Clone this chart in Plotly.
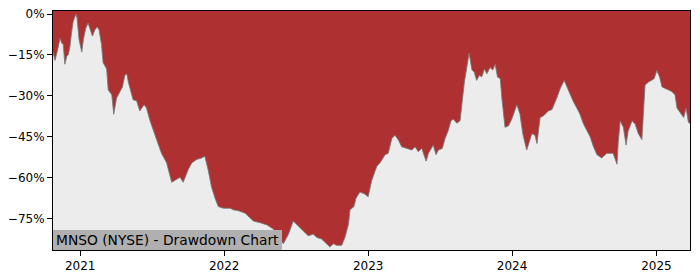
import plotly.graph_objects as go

dates = [
    "2020-10-24", "2020-10-29", "2020-11-04", "2020-11-11", "2020-11-15", "2020-11-19",
    "2020-11-23", "2020-11-28", "2020-12-02", "2020-12-06", "2020-12-10", "2020-12-14",
    "2020-12-21", "2020-12-24", "2020-12-29", "2021-01-05", "2021-01-09", "2021-01-15",
    "2021-01-21", "2021-01-26", "2021-02-01", "2021-02-07", "2021-02-13", "2021-02-18",
    "2021-02-24", "2021-02-28", "2021-03-09", "2021-03-13", "2021-03-22", "2021-03-27",
    "2021-04-03", "2021-04-12", "2021-04-18", "2021-04-24", "2021-04-29", "2021-05-03",
    "2021-05-09", "2021-05-15", "2021-05-24", "2021-06-01", "2021-06-12", "2021-06-18",
    "2021-06-27", "2021-07-05", "2021-07-14", "2021-07-26", "2021-08-08", "2021-08-21",
    "2021-08-29", "2021-09-11", "2021-09-19", "2021-10-02", "2021-10-11", "2021-10-23",
    "2021-11-05", "2021-11-13", "2021-11-22", "2021-11-30", "2021-12-09", "2021-12-17",
    "2021-12-30", "2022-01-16", "2022-01-24", "2022-02-06", "2022-02-23", "2022-03-03",
    "2022-03-16", "2022-04-02", "2022-04-19", "2022-05-06", "2022-05-18", "2022-05-31",
    "2022-06-13", "2022-06-25", "2022-07-04", "2022-07-12", "2022-07-25", "2022-08-02",
    "2022-08-15", "2022-08-24", "2022-09-05", "2022-09-14", "2022-09-26", "2022-10-05",
    "2022-10-13", "2022-10-26", "2022-11-03", "2022-11-12", "2022-11-16", "2022-11-26",
    "2022-12-01", "2022-12-11", "2022-12-22", "2023-01-01", "2023-01-10", "2023-01-23",
    "2023-01-31", "2023-02-13", "2023-02-21", "2023-03-02", "2023-03-10", "2023-03-19",
    "2023-03-27", "2023-04-09", "2023-04-22", "2023-04-30", "2023-05-08", "2023-05-17",
    "2023-05-28", "2023-06-03", "2023-06-15", "2023-06-22", "2023-06-28", "2023-07-08",
    "2023-07-15", "2023-07-23", "2023-07-30", "2023-08-05", "2023-08-14", "2023-08-22",
    "2023-08-26", "2023-09-02", "2023-09-08", "2023-09-14", "2023-09-21", "2023-09-27",
    "2023-10-03", "2023-10-10", "2023-10-16", "2023-10-23", "2023-10-29", "2023-11-06",
    "2023-11-13", "2023-11-19", "2023-11-25", "2023-12-02", "2023-12-06", "2023-12-14",
    "2023-12-23", "2023-12-31", "2024-01-13", "2024-01-21", "2024-01-28", "2024-02-07",
    "2024-02-13", "2024-02-20", "2024-02-28", "2024-03-04", "2024-03-12", "2024-03-20",
    "2024-04-02", "2024-04-11", "2024-04-23", "2024-05-02", "2024-05-12", "2024-05-19",
    "2024-05-27", "2024-06-04", "2024-06-13", "2024-06-21", "2024-06-30", "2024-07-08",
    "2024-07-17", "2024-07-25", "2024-08-03", "2024-08-15", "2024-08-28", "2024-09-13",
    "2024-09-23", "2024-09-26", "2024-10-01", "2024-10-09", "2024-10-16", "2024-10-21",
    "2024-10-31", "2024-11-08", "2024-11-16", "2024-11-25", "2024-12-03", "2024-12-12",
    "2024-12-20", "2024-12-26", "2025-01-02", "2025-01-09", "2025-01-15", "2025-01-23",
    "2025-01-31", "2025-02-09", "2025-02-17", "2025-02-22", "2025-03-02", "2025-03-11",
    "2025-03-17", "2025-03-23", "2025-03-27",
]

drawdown_pct = [
    -14.0, -17.0, -13.5, -8.9, -10.6, -11.2,
    -18.4, -15.4, -14.8, -11.8, -6.9, -2.8,
    0.0, -1.5, -9.3, -14.0, -9.3, -5.2,
    -3.3, -5.2, -8.1, -5.9, -4.7, -5.9,
    -11.2, -17.8, -20.1, -27.8, -29.6, -36.7,
    -30.8, -28.4, -26.7, -22.5, -21.9, -24.9,
    -27.8, -31.4, -31.8, -35.5, -33.2, -34.4,
    -39.1, -42.7, -46.1, -51.0, -54.5, -61.6,
    -61.0, -59.8, -61.6, -56.9, -54.5, -53.3,
    -52.7, -52.1, -57.5, -63.4, -67.5, -70.5,
    -71.1, -71.1, -71.7, -72.0, -72.9, -74.0,
    -75.8, -76.4, -77.2, -78.8, -81.8, -84.1,
    -80.6, -75.8, -77.0, -78.2, -80.0, -81.2,
    -80.6, -81.8, -82.4, -83.5, -85.3, -84.1,
    -84.7, -84.7, -81.8, -77.0, -71.7, -70.5,
    -67.5, -65.2, -65.8, -66.9, -61.0, -55.7,
    -54.5, -51.5, -51.0, -45.6, -44.4, -46.2,
    -48.6, -49.2, -49.8, -48.6, -50.4, -49.2,
    -53.9, -51.0, -48.0, -51.5, -49.8, -49.2,
    -45.6, -42.7, -39.1, -38.5, -40.0, -39.1,
    -33.2, -24.9, -19.6, -14.3, -20.4, -21.3,
    -24.3, -22.5, -23.0, -20.1, -21.9, -19.6,
    -20.5, -18.4, -23.1, -23.7, -30.8, -41.5,
    -40.9, -38.5, -33.2, -36.7, -43.8, -49.8,
    -47.0, -43.8, -44.4, -47.4, -37.9, -37.3,
    -35.5, -35.0, -30.8, -27.3, -24.3, -26.7,
    -29.0, -32.0, -34.4, -36.7, -40.3, -42.7,
    -45.0, -48.5, -51.5, -52.7, -51.0, -51.0,
    -55.0, -47.0, -39.1, -41.5, -48.0, -43.0,
    -39.1, -40.3, -43.8, -46.0, -26.0, -24.9,
    -24.3, -23.7, -20.7, -23.1, -26.7, -27.3,
    -27.8, -28.4, -29.6, -34.4, -36.1, -37.9,
    -34.4, -39.7, -40.0,
]

y_tick_vals = [0, -15, -30, -45, -60, -75]
y_tick_text = ["0%", "\u221215%", "\u221230%", "\u221245%", "\u221260%", "\u221275%"]
x_tick_vals = ["2021-01-01", "2022-01-01", "2023-01-01", "2024-01-01", "2025-01-01"]
x_tick_text = ["2021", "2022", "2023", "2024", "2025"]
title_text = "MNSO (NYSE) - Drawdown Chart"

RED = "#af3030"
GRAY = "#ececec"
FLOOR = -120

fig = go.Figure()
fig.add_trace(go.Scatter(
    x=dates, y=[FLOOR] * len(dates), mode="lines",
    line=dict(width=0, color=GRAY), hoverinfo="skip", showlegend=False,
))
fig.add_trace(go.Scatter(
    x=dates, y=drawdown_pct, mode="lines", fill="tonexty", fillcolor=GRAY,
    line=dict(width=1, color="rgba(120,120,120,0.85)"), showlegend=False,
))

fig.add_annotation(
    text=title_text, xref="paper", yref="paper", x=0, y=0,
    xanchor="left", yanchor="bottom", showarrow=False, align="left",
    font=dict(family="DejaVu Sans", size=13.8, color="#000000"),
    bgcolor="#b0b0b0", borderpad=2, borderwidth=1, bordercolor="#b0b0b0",
    height=13.5,
)

fig.update_layout(
    width=700, height=280,
    margin=dict(l=53, r=10, t=7, b=28),
    paper_bgcolor="white", plot_bgcolor=RED,
    font=dict(family="DejaVu Sans", size=12, color="#000000"),
    xaxis=dict(
        range=["2020-10-24", "2025-03-27"], tickvals=x_tick_vals, ticktext=x_tick_text,
        showgrid=False, zeroline=False, showline=True, linecolor="black", linewidth=1,
        mirror=True, ticks="outside", ticklen=5, tickcolor="black",
    ),
    yaxis=dict(
        range=[-86.4, 1.1], tickvals=y_tick_vals, ticktext=y_tick_text,
        showgrid=False, zeroline=False, showline=True, linecolor="black", linewidth=1,
        mirror=True, ticks="outside", ticklen=5, tickcolor="black",
    ),
)

fig.write_html("out.html")
